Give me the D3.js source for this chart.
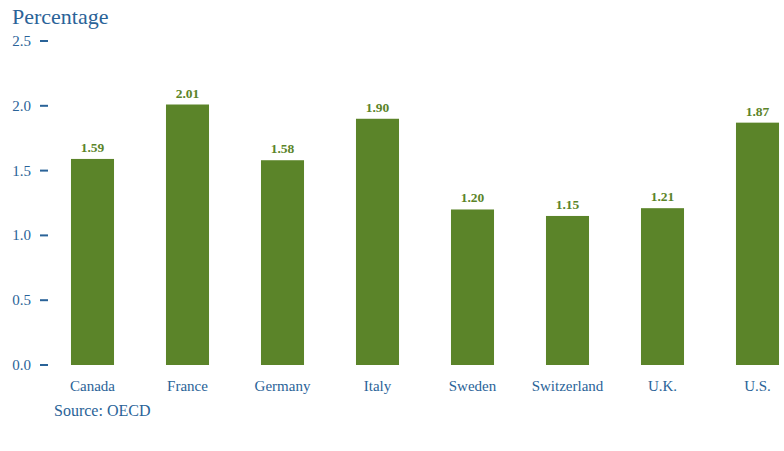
<!DOCTYPE html>
<html>
<head>
<meta charset="utf-8">
<script src="https://cdn.jsdelivr.net/npm/d3@7"></script>
<style>
  body { margin: 0; background: #fff; }
  text { font-family: "Liberation Serif", serif; }
</style>
</head>
<body>
<div class="graph"></div>
<script>
// data
let countries = ['Canada', 'France', 'Germany', 'Italy', 'Sweden', 'Switzerland', 'U.K.', 'U.S.']
let values = [1.59, 2.01, 1.58, 1.90, 1.20, 1.15, 1.21, 1.87]
let yTicks = [0, 0.5, 1.0, 1.5, 2.0, 2.5]

let svgWidth = 784
let svgHeight = 451

let blue = '#2a6398'
let green = '#5b8429'

let svg = d3.select('.graph')
    .append('svg')
    .attr('width', svgWidth)
    .attr('height', svgHeight)

// scales
let xScale = d3.scaleBand()
    .domain(countries)
    .range([45, 805])
    .paddingInner(0.547)
    .paddingOuter(0.2735)

let yScale = d3.scaleLinear()
    .domain([0, 2.5])
    .range([365, 41])

// title
svg.append('text')
    .attr('x', 12)
    .attr('y', 24)
    .attr('fill', blue)
    .attr('font-size', 22)
    .text('Percentage')

// y axis: label + short dash
let yAxis = svg.append('g').attr('id', 'y-axis')
yAxis.selectAll('text')
    .data(yTicks)
    .join('text')
    .attr('x', 31)
    .attr('y', d => yScale(d) + 5)
    .attr('text-anchor', 'end')
    .attr('fill', blue)
    .attr('font-size', 15)
    .text(d => d3.format('.1f')(d))

yAxis.selectAll('line')
    .data(yTicks)
    .join('line')
    .attr('x1', 40)
    .attr('x2', 48)
    .attr('y1', d => yScale(d))
    .attr('y2', d => yScale(d))
    .attr('stroke', blue)
    .attr('stroke-width', 2)

// bars
let data = countries.map((c, i) => ({ country: c, value: values[i] }))

svg.selectAll('rect')
    .data(data)
    .join('rect')
    .attr('x', d => xScale(d.country))
    .attr('y', d => yScale(d.value))
    .attr('width', xScale.bandwidth())
    .attr('height', d => yScale(0) - yScale(d.value))
    .attr('fill', green)

// value labels
svg.selectAll('.val')
    .data(data)
    .join('text')
    .attr('class', 'val')
    .attr('x', d => xScale(d.country) + xScale.bandwidth() / 2)
    .attr('y', d => yScale(d.value) - 7)
    .attr('text-anchor', 'middle')
    .attr('fill', green)
    .attr('font-size', 13.5)
    .attr('font-weight', 'bold')
    .text(d => d3.format('.2f')(d.value))

// x labels
svg.selectAll('.cat')
    .data(countries)
    .join('text')
    .attr('class', 'cat')
    .attr('x', d => xScale(d) + xScale.bandwidth() / 2)
    .attr('y', 391)
    .attr('text-anchor', 'middle')
    .attr('fill', blue)
    .attr('font-size', 15)
    .text(d => d)

// source
svg.append('text')
    .attr('x', 54)
    .attr('y', 416)
    .attr('fill', blue)
    .attr('font-size', 16)
    .text('Source: OECD')
</script>
</body>
</html>
